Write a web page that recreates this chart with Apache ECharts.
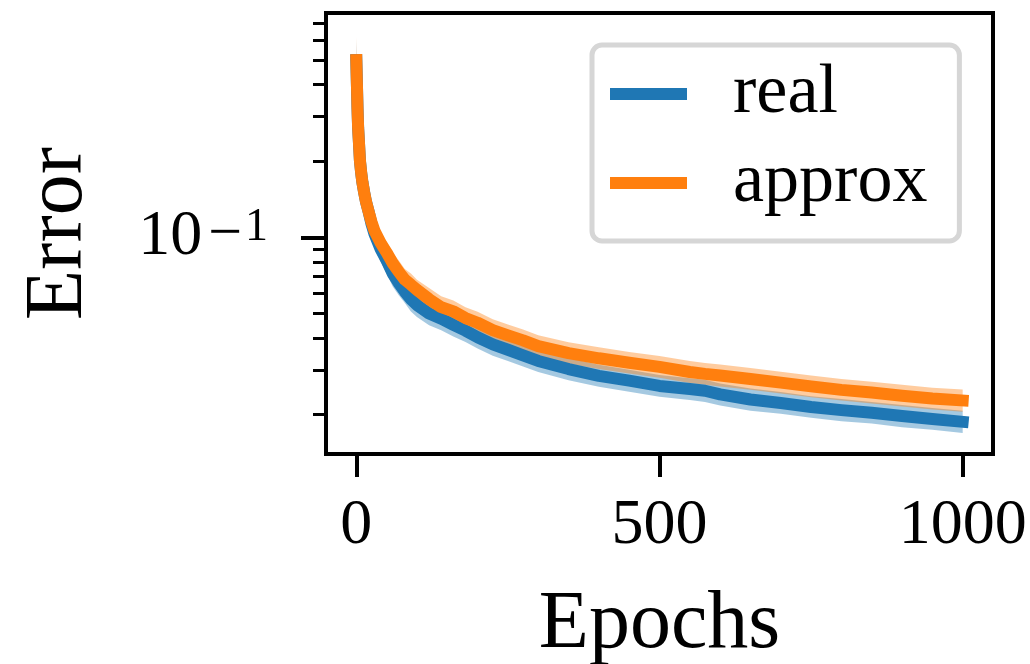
<!DOCTYPE html>
<html>
<head>
<meta charset="utf-8">
<script src="https://cdn.jsdelivr.net/npm/echarts@6/dist/echarts.min.js"></script>
<style>
  html, body { margin: 0; padding: 0; background: #ffffff; }
  #chart { width: 1030px; height: 664px; }
</style>
</head>
<body>
<div id="chart"></div>
<script>
// Training error per epoch (mean curve and spread band for each run)
const epochs = [0, 1, 2, 3, 4, 6, 8, 10, 13, 16, 20, 25, 30, 40, 50, 60, 70, 80, 90, 100,
  120, 140, 160, 180, 200, 225, 250, 275, 300, 350, 400, 450, 500, 550, 575, 600,
  650, 700, 750, 800, 850, 900, 950, 1000];

const realMean = [0.50, 0.40, 0.32, 0.27, 0.245, 0.20, 0.18, 0.165, 0.15, 0.138, 0.127, 0.113, 0.103, 0.090, 0.081, 0.072, 0.066, 0.061, 0.057, 0.054,
  0.050, 0.0477, 0.0451, 0.0428, 0.0403, 0.0378, 0.0360, 0.0342, 0.0325, 0.0302, 0.0284, 0.0272, 0.0259, 0.0252, 0.0248, 0.0240,
  0.0229, 0.0222, 0.0214, 0.0208, 0.0203, 0.0197, 0.0192, 0.0187];
const realLow = [0.42, 0.35, 0.29, 0.245, 0.222, 0.182, 0.163, 0.150, 0.136, 0.125, 0.115, 0.101, 0.092, 0.080, 0.072, 0.064, 0.059, 0.055, 0.051, 0.0485,
  0.0450, 0.0430, 0.0406, 0.0386, 0.0364, 0.0341, 0.0325, 0.0309, 0.0294, 0.0273, 0.0257, 0.0246, 0.0235, 0.0228, 0.0224, 0.0217,
  0.0207, 0.0201, 0.0194, 0.0188, 0.0184, 0.0178, 0.0174, 0.0169];
const realHigh = [0.60, 0.45, 0.35, 0.295, 0.268, 0.218, 0.197, 0.180, 0.164, 0.151, 0.139, 0.124, 0.114, 0.100, 0.090, 0.080, 0.073, 0.067, 0.063, 0.060,
  0.0555, 0.0528, 0.0499, 0.0474, 0.0446, 0.0418, 0.0398, 0.0378, 0.0359, 0.0334, 0.0314, 0.0300, 0.0286, 0.0278, 0.0274, 0.0265,
  0.0253, 0.0245, 0.0236, 0.0230, 0.0224, 0.0218, 0.0212, 0.0207];

const approxMean = [0.50, 0.40, 0.32, 0.27, 0.245, 0.20, 0.18, 0.165, 0.15, 0.138, 0.127, 0.115, 0.106, 0.095, 0.087, 0.079, 0.073, 0.068, 0.065, 0.062,
  0.057, 0.053, 0.051, 0.048, 0.046, 0.0430, 0.0410, 0.0392, 0.0372, 0.0349, 0.0333, 0.0320, 0.0308, 0.0294, 0.0289, 0.0285,
  0.0276, 0.0267, 0.0258, 0.0250, 0.0244, 0.0237, 0.0231, 0.0227];
const approxLow = [0.42, 0.35, 0.29, 0.245, 0.222, 0.182, 0.163, 0.150, 0.136, 0.125, 0.115, 0.104, 0.096, 0.086, 0.078, 0.071, 0.066, 0.0615, 0.0588, 0.0561,
  0.0516, 0.0480, 0.0462, 0.0435, 0.0417, 0.0390, 0.0372, 0.0356, 0.0338, 0.0317, 0.0302, 0.0290, 0.0279, 0.0266, 0.0262, 0.0258,
  0.0250, 0.0242, 0.0234, 0.0227, 0.0221, 0.0215, 0.0209, 0.0205];
const approxHigh = [0.62, 0.45, 0.35, 0.295, 0.268, 0.218, 0.197, 0.180, 0.164, 0.151, 0.140, 0.127, 0.117, 0.105, 0.096, 0.087, 0.081, 0.075, 0.072, 0.068,
  0.063, 0.0585, 0.0563, 0.0530, 0.0508, 0.0475, 0.0453, 0.0433, 0.0411, 0.0385, 0.0368, 0.0353, 0.0340, 0.0325, 0.0319, 0.0315,
  0.0305, 0.0295, 0.0285, 0.0276, 0.0269, 0.0262, 0.0255, 0.0251];

const xTicks = [0, 500, 1000];
const yMajorTicks = [0.1];
const yMinorTicks = [0.02, 0.03, 0.04, 0.05, 0.06, 0.07, 0.08, 0.09, 0.2, 0.3, 0.4, 0.5, 0.6, 0.7];

const BLUE = '#1f77b4';
const ORANGE = '#ff7f0e';
const FONT = 'Liberation Serif';

const pairs = (ys) => epochs.map((e, i) => [e, ys[i]]);

function lineSeries(name, ys, color) {
  return {
    name, type: 'line', data: pairs(ys), showSymbol: false, symbol: 'none',
    lineStyle: { color, width: 12, cap: 'square', join: 'round' },
    itemStyle: { color },
    animation: false, z: 3
  };
}

// Shaded spread: one polygon running along the upper edge and back along the lower edge
function bandSeries(name, lo, hi, fill) {
  return {
    name, type: 'custom', silent: true, animation: false, z: 3,
    data: [[epochs[0], lo[0]]],
    renderItem: (params, api) => {
      const upper = epochs.map((e, i) => api.coord([e, hi[i]]));
      const lower = epochs.map((e, i) => api.coord([e, lo[i]])).reverse();
      return {
        type: 'polygon',
        shape: { points: upper.concat(lower) },
        style: { fill: fill }
      };
    }
  };
}

const chart = echarts.init(document.getElementById('chart'), null, { renderer: 'canvas' });

chart.setOption({
  backgroundColor: '#ffffff',
  animation: false,
  grid: {
    left: 326, right: 37, top: 13, bottom: 210,
    containLabel: false, outerBoundsMode: 'none',
    show: true, borderColor: '#000', borderWidth: 4, backgroundColor: 'transparent'
  },
  xAxis: {
    type: 'value', min: -50, max: 1050,
    name: 'Epochs', nameLocation: 'middle', nameGap: 130,
    nameTextStyle: { fontFamily: FONT, fontSize: 82, color: '#000' },
    axisLine: { show: true, onZero: false, lineStyle: { color: '#000', width: 4 } },
    axisTick: { show: true, length: 23, lineStyle: { color: '#000', width: 4 }, customValues: xTicks },
    axisLabel: {
      customValues: xTicks, fontFamily: FONT, fontSize: 64, color: '#000', margin: 40,
      formatter: (v) => String(v)
    },
    splitLine: { show: false }
  },
  yAxis: [
    {
      type: 'log', logBase: 10, min: 0.01396, max: 0.767,
      name: 'Error', nameLocation: 'middle', nameGap: 226, nameRotate: 90,
      nameTextStyle: { fontFamily: FONT, fontSize: 82, color: '#000' },
      axisLine: { show: true, onZero: false, lineStyle: { color: '#000', width: 4 } },
      axisTick: { show: true, length: 25, lineStyle: { color: '#000', width: 4 }, customValues: yMajorTicks },
      axisLabel: {
        customValues: yMajorTicks, margin: 58,
        formatter: () => '{b|10}{m|\u2212}{s|1}',
        rich: {
          b: { fontFamily: FONT, fontSize: 64, lineHeight: 64, color: '#000' },
          m: { fontFamily: FONT, fontSize: 60, lineHeight: 28, color: '#000', verticalAlign: 'top', padding: [0, 3, 0, 6] },
          s: { fontFamily: FONT, fontSize: 46, lineHeight: 34, color: '#000', verticalAlign: 'top' }
        }
      },
      splitLine: { show: false }
    },
    {
      type: 'log', logBase: 10, min: 0.01396, max: 0.767, position: 'left',
      axisLine: { show: false, onZero: false },
      axisTick: { show: true, length: 13, lineStyle: { color: '#000', width: 3 }, customValues: yMinorTicks },
      axisLabel: { show: false },
      splitLine: { show: false }
    }
  ],
  legend: {
    data: ['real', 'approx'],
    orient: 'vertical', left: 592, top: 45,
    icon: 'rect', itemWidth: 77, itemHeight: 12, itemGap: 19,
    padding: [14, 32, 23, 18],
    backgroundColor: 'rgba(255,255,255,0.8)',
    borderColor: '#d6d6d6', borderWidth: 5, borderRadius: 10,
    selectedMode: false,
    textStyle: { fontFamily: FONT, fontSize: 70, lineHeight: 70, color: '#000', padding: [0, 0, 0, 41] }
  },
  series: [
    lineSeries('real', realMean, BLUE),
    bandSeries('real spread', realLow, realHigh, 'rgba(31,119,180,0.4)'),
    lineSeries('approx', approxMean, ORANGE),
    bandSeries('approx spread', approxLow, approxHigh, 'rgba(255,127,14,0.4)')
  ]
});
</script>
</body>
</html>
